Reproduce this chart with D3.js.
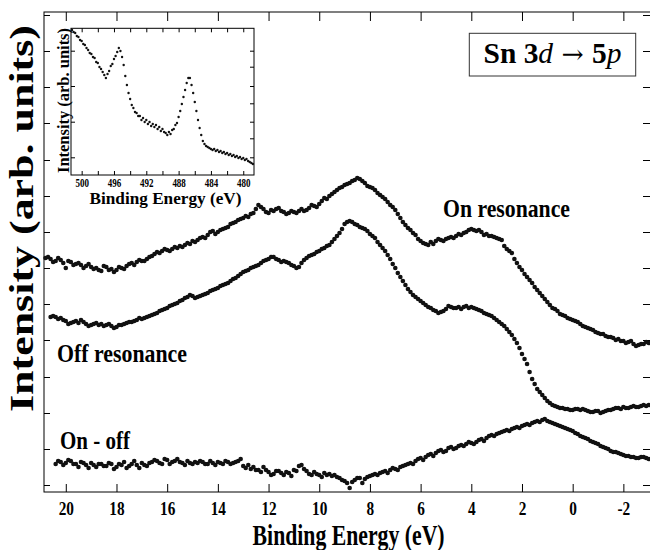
<!DOCTYPE html>
<html>
<head>
<meta charset="utf-8">
<script src="https://cdn.jsdelivr.net/npm/d3@7"></script>
<style>
  body { margin: 0; background: #fff; }
  svg { display: block; font-family: "Liberation Serif", "Times New Roman", serif; }
</style>
</head>
<body>
<div id="chart"></div>
<script>
// binding energy grid (eV): first point of each scan and spacing
const step = 0.1;
const onStart = 20.8;
const offStart = 20.6;
const diffStart = 20.4;

// intensities (arb. units), one per grid point
const onResonance = [
  234, 235, 233, 230, 231, 234, 232, 229, 224, 231, 230, 227, 228, 229, 227, 224, 226, 228, 225, 223,
  224, 222, 221, 226, 225, 222, 223, 220, 222, 225, 224, 223, 226, 228, 229, 227, 230, 232, 231, 231,
  233, 235, 236, 238, 240, 239, 241, 243, 242, 241, 243, 245, 244, 246, 245, 247, 249, 248, 251, 250,
  252, 254, 255, 254, 257, 260, 261, 258, 260, 262, 263, 264, 265, 268, 269, 270, 272, 273, 274, 276,
  275, 278, 279, 283, 287, 285, 283, 280, 279, 282, 281, 283, 284, 281, 280, 278, 279, 281, 280, 279,
  281, 283, 281, 282, 284, 287, 286, 285, 288, 291, 294, 293, 296, 298, 300, 302, 304, 305, 307, 308,
  309, 311, 312, 314, 313, 311, 309, 306, 305, 304, 302, 299, 297, 295, 293, 290, 287, 285, 282, 278,
  274, 270, 267, 264, 262, 259, 257, 253, 251, 249, 248, 247, 250, 248, 251, 253, 252, 251, 253, 254,
  255, 254, 256, 258, 257, 259, 260, 262, 263, 262, 261, 262, 260, 257, 258, 256, 256, 255, 254, 253,
  252, 246, 243, 241, 239, 233, 229, 225, 222, 218, 215, 212, 209, 205, 202, 199, 196, 193, 190, 187,
  184, 183, 181, 178, 177, 176, 174, 173, 172, 171, 170, 168, 166, 165, 164, 163, 162, 160, 159, 158,
  158, 156, 155, 155, 154, 152, 153, 151, 151, 149, 150, 151, 148, 146, 147, 148, 148, 150, 149
];

const offResonance = [
  175, 176, 175, 173, 174, 172, 171, 168, 169, 170, 171, 169, 172, 170, 168, 166, 167, 168, 169, 167,
  168, 166, 167, 168, 166, 164, 165, 167, 167, 168, 169, 170, 170, 171, 172, 174, 173, 174, 175, 176,
  177, 178, 179, 181, 182, 183, 184, 186, 187, 188, 189, 191, 192, 194, 195, 197, 196, 194, 195, 196,
  197, 198, 199, 201, 202, 203, 204, 206, 207, 208, 209, 211, 213, 214, 216, 218, 220, 221, 222, 224,
  225, 226, 227, 229, 231, 232, 233, 235, 235, 233, 232, 230, 231, 230, 229, 227, 226, 224, 225, 229,
  232, 234, 236, 237, 238, 240, 241, 243, 244, 246, 247, 250, 253, 256, 259, 263, 268, 270, 271, 270,
  268, 267, 265, 264, 263, 261, 258, 256, 254, 250, 247, 244, 241, 237, 233, 228, 224, 219, 215, 211,
  207, 203, 200, 197, 195, 193, 191, 189, 187, 185, 184, 182, 181, 179, 180, 181, 183, 186, 185, 184,
  184, 185, 183, 185, 186, 184, 185, 184, 183, 182, 181, 179, 178, 177, 176, 174, 172, 170, 168, 166,
  163, 160, 157, 153, 149, 144, 138, 133, 128, 120, 113, 108, 103, 100, 97, 94, 91, 89, 87, 86,
  85, 84, 84, 83, 83, 82, 82, 83, 83, 82, 83, 82, 81, 80, 80, 81, 81, 79, 80, 81,
  82, 82, 83, 84, 84, 83, 85, 84, 84, 85, 86, 85, 85, 86, 87, 86, 87
];

const onMinusOff = [
  28, 31, 30, 27, 29, 32, 31, 28, 28, 25, 30, 29, 27, 24, 29, 27, 25, 28, 28, 26,
  26, 29, 28, 23, 25, 28, 27, 30, 24, 26, 28, 31, 27, 24, 29, 27, 26, 29, 30, 32,
  31, 29, 28, 33, 32, 28, 30, 31, 33, 30, 29, 27, 31, 29, 28, 30, 29, 31, 30, 28,
  28, 31, 29, 27, 30, 29, 28, 31, 30, 28, 29, 30, 31, 33, 26, 24, 27, 23, 25, 22,
  22, 20, 25, 22, 20, 17, 18, 21, 21, 19, 17, 20, 19, 16, 22, 21, 26, 27, 23, 21,
  18, 17, 20, 18, 17, 15, 19, 17, 18, 16, 17, 15, 14, 12, 11, 9, 4, 10, 12, 14,
  14, 9, 13, 15, 16, 17, 18, 17, 19, 20, 21, 19, 22, 24, 23, 22, 25, 26, 27, 28,
  29, 28, 31, 33, 34, 32, 35, 37, 38, 36, 39, 41, 42, 40, 41, 44, 45, 43, 44, 46,
  47, 46, 48, 50, 49, 48, 50, 52, 53, 51, 54, 56, 57, 56, 58, 59, 60, 61, 62, 61,
  63, 64, 65, 64, 66, 67, 68, 67, 69, 70, 71, 70, 72, 73, 71, 70, 69, 68, 67, 66,
  65, 64, 63, 62, 61, 59, 58, 56, 55, 54, 53, 51, 50, 49, 48, 46, 45, 44, 43, 41,
  40, 40, 39, 38, 37, 36, 36, 35, 35, 34, 34, 35, 35, 34, 33
];

// inset: Sn 3d core level
const insetStep = 0.2;
const insetStart = 501.2;
const insetCoreLevel = [
  145, 143, 142, 139, 138, 135, 134, 131, 130, 127,
  125, 122, 121, 118, 117, 113, 112, 108, 106, 103,
  100, 97, 101, 104, 109, 111, 116, 119, 123, 127,
  124, 118, 110, 99, 90, 82, 76, 70, 67, 63,
  62, 59, 59, 55, 57, 53, 55, 51, 53, 49,
  51, 48, 50, 46, 48, 44, 46, 43, 42, 40,
  43, 41, 45, 46, 50, 52, 58, 64, 71, 78,
  85, 92, 97, 97, 90, 82, 73, 64, 55, 47,
  40, 34, 31, 29, 28, 27, 26, 25, 26, 24,
  25, 23, 24, 22, 23, 21, 22, 20, 21, 19,
  20, 18, 19, 17, 18, 16, 17, 15, 16, 14,
  13, 12, 11
];

const xTicks = [20, 18, 16, 14, 12, 10, 8, 6, 4, 2, 0, -2];
const yTicks = [7, 43, 79, 115, 152, 188, 224, 260, 296, 332, 369, 405, 441, 477];
const insetXTicks = [500, 498, 496, 494, 492, 490, 488, 486, 484, 482, 480];
const insetXLabels = [500, 496, 492, 488, 484, 480];
const insetLeftTicks = [17.7, 53.3, 89, 124.3];
const insetRightTicks = [17.7, 36.7, 53.3, 71.7, 89, 108.3, 124.3];

const toPoints = (start, dx, values) =>
  values.map((v, i) => ({ e: +(start - i * dx).toFixed(2), v: v }));

const width = 650;
const height = 550;

const svg = d3
  .select("#chart")
  .append("svg")
  .attr("width", width)
  .attr("height", height);

/* Main panel */
const x = d3.scaleLinear().domain([20.86, -3.09]).range([44, 651]);
const y = d3.scaleLinear().domain([0, 480]).range([492, 12]);

const styleAxis = (g) => {
  g.select(".domain").remove();
  g.attr("font-family", null).attr("font-size", null);
  g.selectAll(".tick line").attr("stroke", "#000");
};

svg
  .append("g")
  .attr("transform", "translate(0,492)")
  .call(d3.axisBottom(x).tickValues(xTicks).tickSize(-8).tickFormat((d) => d))
  .call(styleAxis)
  .selectAll("text")
  .attr("y", 23)
  .attr("dy", null)
  .attr("font-size", 18)
  .attr("font-weight", "bold")
  .attr("fill", "#000")
  .attr("transform", "scale(0.85,1)");

svg
  .append("g")
  .attr("transform", "translate(0,12)")
  .call(d3.axisTop(x).tickValues(xTicks).tickSize(-9).tickFormat(""))
  .call(styleAxis);

svg
  .append("g")
  .attr("transform", "translate(44,0)")
  .call(d3.axisLeft(y).tickValues(yTicks).tickSize(-6).tickFormat(""))
  .call(styleAxis);

svg
  .append("g")
  .attr("transform", "translate(651,0)")
  .call(d3.axisRight(y).tickValues(yTicks).tickSize(-8).tickFormat(""))
  .call(styleAxis);

svg
  .append("rect")
  .attr("x", 44)
  .attr("y", 12)
  .attr("width", 607)
  .attr("height", 480)
  .attr("fill", "none")
  .attr("stroke", "#000");

const series = [
  { name: "on", points: toPoints(onStart, step, onResonance) },
  { name: "off", points: toPoints(offStart, step, offResonance) },
  { name: "diff", points: toPoints(diffStart, step, onMinusOff) },
];

svg
  .append("g")
  .selectAll("g")
  .data(series)
  .join("g")
  .selectAll("circle")
  .data((d) => d.points)
  .join("circle")
  .attr("cx", (d) => x(d.e))
  .attr("cy", (d) => y(d.v))
  .attr("r", 2.3)
  .attr("fill", "#111");

/* Labels */
const label = (txt, xPos, yPos, size, len) =>
  svg
    .append("text")
    .attr("x", xPos)
    .attr("y", yPos)
    .attr("font-size", size)
    .attr("font-weight", "bold")
    .attr("textLength", len)
    .attr("lengthAdjust", "spacingAndGlyphs")
    .text(txt);

label("On resonance", 443, 216.7, 26, 127);
label("Off resonance", 57, 362, 26, 130);
label("On - off", 60, 449, 25, 70);
label("Binding Energy (eV)", 348.6, 545, 28.5, 192).attr("text-anchor", "middle");

svg
  .append("text")
  .attr("transform", "translate(33.3,218.5) rotate(-90)")
  .attr("text-anchor", "middle")
  .attr("font-size", 32.7)
  .attr("font-weight", "bold")
  .attr("textLength", 387)
  .attr("lengthAdjust", "spacingAndGlyphs")
  .text("Intensity (arb. units)");

/* Transition box */
svg
  .append("rect")
  .attr("x", 469.3)
  .attr("y", 33.3)
  .attr("width", 166.4)
  .attr("height", 42.7)
  .attr("fill", "#fff")
  .attr("stroke", "#333");

const box = svg
  .append("text")
  .attr("x", 552.5)
  .attr("y", 63.3)
  .attr("text-anchor", "middle")
  .attr("font-size", 29)
  .attr("textLength", 138)
  .attr("lengthAdjust", "spacingAndGlyphs");
box.append("tspan").attr("font-weight", "bold").text("Sn 3");
box.append("tspan").attr("font-style", "italic").text("d");
box.append("tspan").attr("font-family", "DejaVu Serif").attr("font-size", 26).text(" \u2192 ");
box.append("tspan").attr("font-weight", "bold").text("5");
box.append("tspan").attr("font-style", "italic").text("p");

/* Inset */
const ix = d3.scaleLinear().domain([501.32, 478.67]).range([71, 254]);
const iy = d3.scaleLinear().domain([0, 146.7]).range([175, 28.3]);

const inset = svg.append("g");

inset
  .append("rect")
  .attr("x", 71)
  .attr("y", 28.3)
  .attr("width", 183)
  .attr("height", 146.7)
  .attr("fill", "#fff");

inset
  .append("g")
  .attr("transform", "translate(0,175)")
  .call(
    d3
      .axisBottom(ix)
      .tickValues(insetXTicks)
      .tickSize(-4)
      .tickFormat((d) => (insetXLabels.includes(d) ? d : ""))
  )
  .call(styleAxis)
  .selectAll("text")
  .attr("y", 11.7)
  .attr("dy", null)
  .attr("font-size", 12.5)
  .attr("font-weight", "bold")
  .attr("fill", "#000")
  .attr("transform", "scale(0.72,1)");

inset
  .append("g")
  .attr("transform", "translate(0,28.3)")
  .call(d3.axisTop(ix).tickValues(insetXTicks).tickSize(-4).tickFormat(""))
  .call(styleAxis);

inset
  .append("g")
  .attr("transform", "translate(71,0)")
  .call(d3.axisLeft(iy).tickValues(insetLeftTicks).tickSize(-4).tickFormat(""))
  .call(styleAxis);

inset
  .append("g")
  .attr("transform", "translate(254,0)")
  .call(d3.axisRight(iy).tickValues(insetRightTicks).tickSize(-4).tickFormat(""))
  .call(styleAxis);

inset
  .append("rect")
  .attr("x", 71)
  .attr("y", 28.3)
  .attr("width", 183)
  .attr("height", 146.7)
  .attr("fill", "none")
  .attr("stroke", "#000");

inset
  .append("g")
  .selectAll("circle")
  .data(toPoints(insetStart, insetStep, insetCoreLevel))
  .join("circle")
  .attr("cx", (d) => ix(d.e))
  .attr("cy", (d) => iy(d.v))
  .attr("r", 1.2)
  .attr("fill", "#111");

inset
  .append("text")
  .attr("x", 165.5)
  .attr("y", 204)
  .attr("text-anchor", "middle")
  .attr("font-size", 17.5)
  .attr("font-weight", "bold")
  .attr("textLength", 152)
  .attr("lengthAdjust", "spacingAndGlyphs")
  .text("Binding Energy (eV)");

inset
  .append("text")
  .attr("transform", "translate(68.5,100.5) rotate(-90)")
  .attr("text-anchor", "middle")
  .attr("font-size", 16)
  .attr("font-weight", "bold")
  .attr("textLength", 145)
  .attr("lengthAdjust", "spacingAndGlyphs")
  .text("Intensity (arb. units)");
</script>
</body>
</html>
